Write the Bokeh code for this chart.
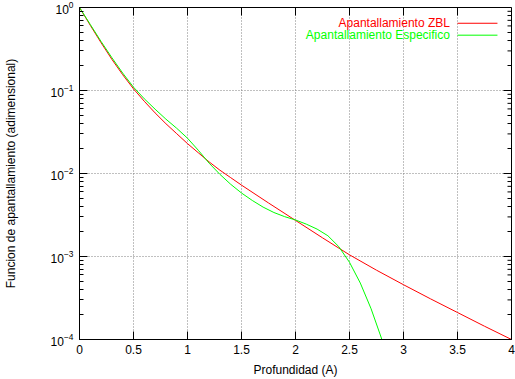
import math
from bokeh.plotting import figure
from bokeh.models import FixedTicker, Label
from bokeh.embed import file_html
from bokeh.resources import INLINE

# ---- data ----
depth_zbl = [0.0, 0.1, 0.2, 0.3, 0.4, 0.5, 0.6, 0.7, 0.8, 0.9,
             1.0, 1.1, 1.2, 1.3, 1.4, 1.5, 1.75, 2.0, 2.25, 2.5, 2.75, 3.0,
             3.25, 3.5, 3.75, 4.0]
zbl_log10 = [0.0, -0.215, -0.425, -0.625, -0.81, -0.98, -1.13, -1.27, -1.40,
             -1.52, -1.64, -1.75, -1.86, -1.96, -2.05, -2.14, -2.355, -2.565,
             -2.775, -2.98, -3.165, -3.34, -3.51, -3.675, -3.84, -4.0]

depth_esp = [0.0, 0.1, 0.2, 0.3, 0.4, 0.5, 0.6, 0.7, 0.8, 0.9,
             1.0, 1.1, 1.2, 1.3, 1.4, 1.5, 1.6, 1.7, 1.8, 1.9, 2.0, 2.1, 2.2,
             2.3, 2.4, 2.5, 2.6, 2.7, 2.8]
esp_log10 = [0.0, -0.205, -0.41, -0.605, -0.79, -0.96, -1.10, -1.225, -1.345,
             -1.455, -1.575, -1.72, -1.875, -2.01, -2.13, -2.235, -2.325, -2.405,
             -2.47, -2.52, -2.56, -2.61, -2.67, -2.75, -2.88, -3.07, -3.32,
             -3.63, -4.0]

x_ticks = [0, 0.5, 1, 1.5, 2, 2.5, 3, 3.5, 4]
y_decades = [-4, -3, -2, -1, 0]

series_names = ["Apantallamiento ZBL", "Apantallamiento Especifico"]
series_colors = ["#ff0000", "#00ff00"]

FONT = "Liberation Sans"
X0, X1 = 0, 4
Y0, Y1 = 1e-4, 1

zbl = [10 ** v for v in zbl_log10]
esp = [10 ** v for v in esp_log10]

major_y = [10.0 ** d for d in y_decades]
minor_y = [k * 10.0 ** d for d in y_decades[:-1] for k in range(2, 10)]

p = figure(width=515, height=379, x_range=(X0, X1), y_range=(Y0, Y1),
           y_axis_type="log", output_backend="svg", toolbar_location=None,
           min_border_left=77, min_border_right=4, min_border_top=7,
           min_border_bottom=38)
p.background_fill_color = "white"
p.border_fill_color = "white"
p.outline_line_color = "black"
p.outline_line_width = 1

xt = FixedTicker(ticks=x_ticks)
yt = FixedTicker(ticks=major_y, minor_ticks=minor_y)

p.xaxis.ticker = xt
p.yaxis.ticker = yt
p.xaxis.major_label_overrides = {t: ("%g" % t) for t in x_ticks}

for ax in (p.xaxis[0], p.yaxis[0]):
    ax.major_tick_in = 8
    ax.major_tick_out = 0
    ax.minor_tick_in = 4
    ax.minor_tick_out = 0
    ax.axis_line_color = "black"
    ax.major_tick_line_color = "black"
    ax.minor_tick_line_color = "black"
    ax.major_label_text_font = FONT
    ax.major_label_text_font_size = "12px"
    ax.major_label_text_color = "black"
    ax.axis_label_text_font = FONT
    ax.axis_label_text_font_size = "12px"
    ax.axis_label_text_font_style = "normal"
    ax.axis_label_text_color = "black"

p.xaxis.axis_label = "Profundidad (A)"
p.yaxis.axis_label = "Funcion de apantallamiento (adimensional)"
p.xaxis.major_label_standoff = 5
p.xaxis.axis_label_standoff = 6
p.yaxis.major_label_standoff = 6
p.yaxis.axis_label_standoff = 30

p.xgrid.ticker = xt
p.ygrid.ticker = FixedTicker(ticks=major_y)
for g in (p.xgrid[0], p.ygrid[0]):
    g.grid_line_color = "#808080"
    g.grid_line_dash = "1 2"
    g.grid_line_width = 1

# mirrored ticks on the top and right frame edges (gnuplot style)
p.ray(x=x_ticks, y=[Y1] * len(x_ticks), length=8, length_units="screen",
      angle=-math.pi / 2, line_color="black", line_width=1)
p.ray(x=[X1] * len(major_y), y=major_y, length=8, length_units="screen",
      angle=math.pi, line_color="black", line_width=1)
p.ray(x=[X1] * len(minor_y), y=minor_y, length=4, length_units="screen",
      angle=math.pi, line_color="black", line_width=1)

p.line(depth_zbl, zbl, line_color=series_colors[0], line_width=1)
p.line(depth_esp, esp, line_color=series_colors[1], line_width=1)

# legend (gnuplot style: text right-aligned, then a line sample)
leg_text_x = 3.43
leg_line_x0, leg_line_x1 = 3.50, 3.87
leg_rows_y = [0.646, 0.464]
for name, col, yy in zip(series_names, series_colors, leg_rows_y):
    p.add_layout(Label(x=leg_text_x, y=yy, text=name, text_align="right",
                       text_baseline="middle", text_color=col,
                       text_font=FONT, text_font_size="12px"))
    p.segment(x0=[leg_line_x0], x1=[leg_line_x1], y0=[yy], y1=[yy],
              line_color=col, line_width=1)

open("out.html", "w").write(file_html(p, INLINE))
